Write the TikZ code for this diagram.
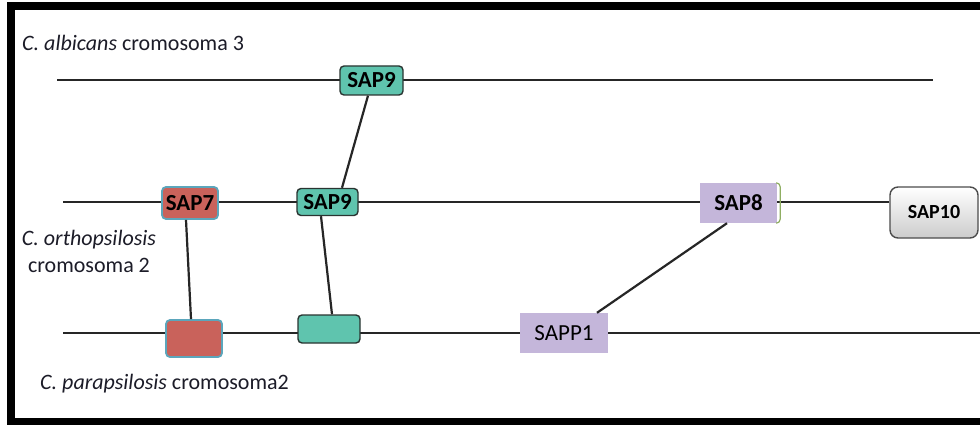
\documentclass[tikz,border=0pt]{standalone}
\usepackage{fontspec}
\setmainfont{Carlito}
\usetikzlibrary{backgrounds}
\definecolor{tealf}{HTML}{5FC4AE}
\definecolor{redf}{HTML}{C9625B}
\definecolor{redb}{HTML}{5BA6BC}
\definecolor{lavf}{HTML}{C4B6DA}
\definecolor{greenb}{HTML}{8FAE62}
\definecolor{darkb}{HTML}{2A3431}
\definecolor{txt}{HTML}{1C1C28}
\tikzset{
  chrom/.style={line width=2.8pt, draw=black!85},
  link/.style={line width=2.2pt, draw=black!85},
  gene/.style={rectangle, rounded corners=4pt, inner sep=0pt, font=\fontsize{23}{24}\selectfont\bfseries, text=black},
  tealgene/.style={gene, fill=tealf, draw=darkb, line width=1.4pt},
  redgene/.style={gene, fill=redf, draw=redb, line width=1.8pt},
  lavgene/.style={rectangle, inner sep=0pt, fill=lavf},
  lbl/.style={font=\fontsize{22}{27}\selectfont, text=txt, inner sep=0pt},
}
\begin{document}
\begin{tikzpicture}[x=1pt,y=-1pt]
\useasboundingbox (0,0) rectangle (980,425);
\clip (0,0) rectangle (980,425);
% frame
\draw[line width=8pt, draw=black] (11,6) rectangle (1000,421.5);

% genes
\node[tealgene, minimum width=63pt, minimum height=29pt] (sap9a) at (371.5,80.5) {SAP9};
\node[redgene, minimum width=56pt, minimum height=32pt] (sap7) at (190,203) {SAP7};
\node[tealgene, minimum width=61pt, minimum height=27pt] (sap9b) at (327.5,202) {SAP9};
\node[redgene, minimum width=56pt, minimum height=37pt] (redbox) at (194,338.5) {};
\node[tealgene, minimum width=62pt, minimum height=28pt] (tealbox) at (329,329) {};
\node[lavgene, minimum width=88pt, minimum height=40pt, font=\fontsize{23}{24}\selectfont, text=black] (sapp1) at (564,333) {SAPP1};
\node[lavgene, minimum width=77pt, minimum height=40pt, font=\fontsize{23}{24}\selectfont\bfseries, text=black] (sap8) at (738.5,203) {SAP8};
\draw[greenb, line width=1.2pt] ([xshift=-1pt]sap8.north east) arc[start angle=90,end angle=0,radius=4pt] -- ([xshift=3pt,yshift=4pt]sap8.south east) arc[start angle=0,end angle=-90,radius=4pt];
\node[gene, minimum width=88pt, minimum height=51pt, rounded corners=8pt, draw=black!70, line width=1.4pt,
      top color=white, bottom color=black!20, font=\fontsize{20}{24}\selectfont\bfseries] (sap10) at (934,212.5) {SAP10};

% chromosome lines
\coordinate (t0) at (57,80);
\coordinate (t1) at (933,80);
\coordinate (m0) at (63,202);
\coordinate (b0) at (63,333);
\coordinate (b1) at (985,333);
\begin{scope}[on background layer]
\fill[white] (0,0) rectangle (980,425);
\draw[chrom] (t0) -- (t1);
\draw[chrom] (m0) -- (m0 -| sap10.west);
\draw[chrom] (b0) -- (b1);
\end{scope}

% links
\draw[link] ([xshift=-3.5pt]sap9a.south) -- ([xshift=14.5pt]sap9b.north);
\draw[link] ([xshift=-4pt]sap7.south) -- ([xshift=-3pt]redbox.north);
\draw[link] ([xshift=-6.5pt]sap9b.south) -- ([xshift=3pt]tealbox.north);
\draw[link] ([xshift=-11.5pt]sap8.south) -- ([xshift=33pt]sapp1.north);

% labels
\node[lbl, anchor=west] (lalb) at (22,43) {\textit{C. albicans} cromosoma 3};
\node[lbl, align=center] (lort) at (89,251.5) {\textit{C. orthopsilosis}\\cromosoma 2};
\node[lbl, anchor=west] (lpar) at (40,384) {\textit{C. parapsilosis} cromosoma2};
\end{tikzpicture}
\end{document}
